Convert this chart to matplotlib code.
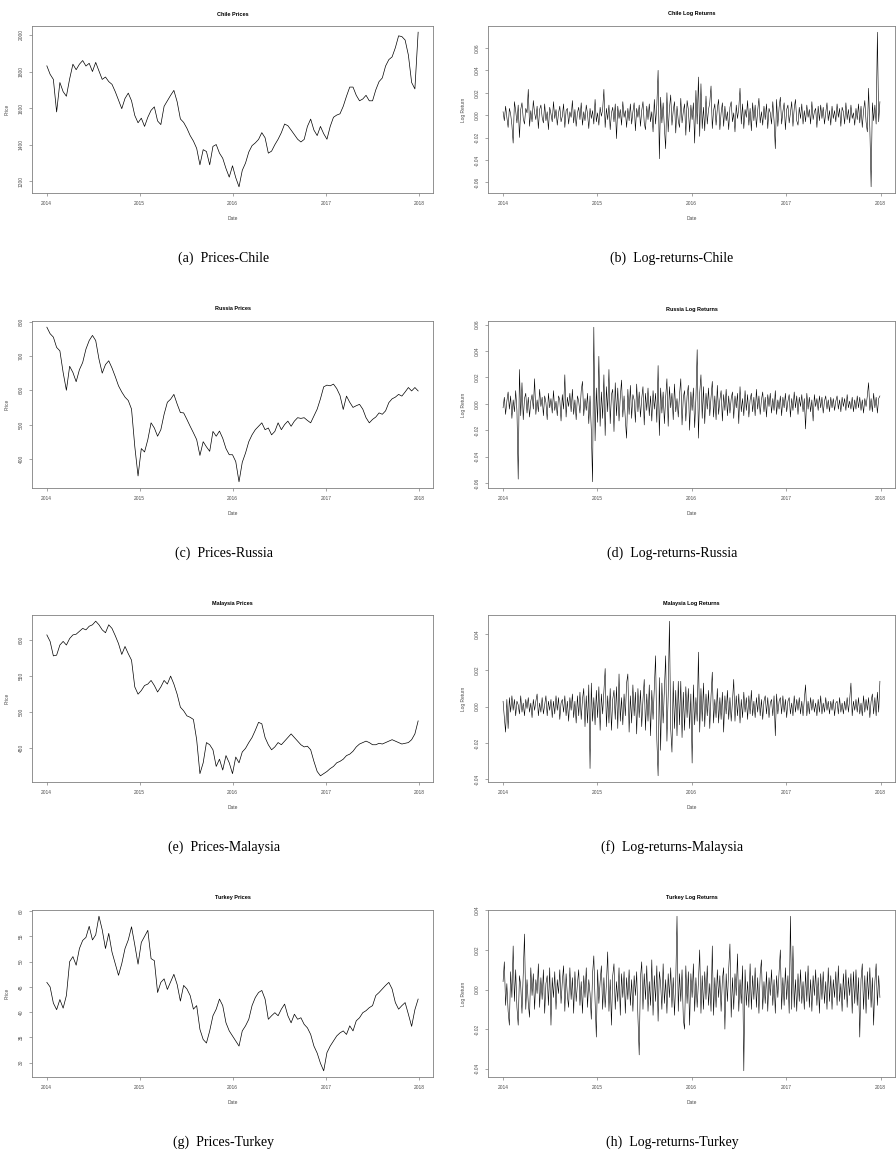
import numpy as np
import pandas as pd
import matplotlib
matplotlib.use('Agg')
import matplotlib.pyplot as plt
import matplotlib.dates as mdates
from matplotlib.ticker import FixedLocator, FormatStrFormatter

plt.rcParams['font.family'] = ['Liberation Sans', 'DejaVu Sans']

# ---- price series (roughly every 2 weeks, 2014-2017) ----
chile_price = [
    1831, 1785, 1757, 1579, 1740, 1690, 1665, 1760, 1840, 1810,
    1840, 1860, 1830, 1845, 1800, 1850, 1803, 1757, 1770, 1745,
    1730, 1690, 1644, 1597, 1653, 1682, 1640, 1560, 1520, 1545,
    1500, 1550, 1588, 1607, 1530, 1510, 1610, 1640, 1670, 1697,
    1635, 1541, 1522, 1490, 1450, 1420, 1380, 1290, 1373, 1363,
    1290, 1391, 1401, 1354, 1326, 1270, 1223, 1285, 1220, 1170,
    1260, 1300, 1360, 1395, 1410, 1429, 1466, 1438, 1354, 1365,
    1400, 1430, 1466, 1513, 1504, 1480, 1455, 1430, 1415, 1429,
    1500, 1540, 1480, 1450, 1500, 1460, 1430, 1500, 1550, 1562,
    1569, 1610, 1665, 1715, 1715, 1670, 1640, 1650, 1670, 1640,
    1640, 1700, 1745, 1765, 1830, 1865, 1880, 1930, 1995, 1991,
    1972, 1890, 1740, 1705, 2015]

russia_price = [
    784, 765, 755, 725, 715, 652, 600, 670, 652, 625,
    660, 681, 720, 745, 760, 745, 691, 650, 675, 686,
    665, 640, 613, 595, 580, 570, 545, 436, 350, 430,
    420, 456, 505, 490, 466, 485, 530, 565, 574, 588,
    560, 535, 534, 515, 495, 476, 456, 410, 450, 435,
    422, 480, 466, 481, 460, 430, 412, 412, 392, 333,
    390, 417, 450, 470, 485, 495, 505, 485, 490, 470,
    480, 505, 485, 500, 510, 495, 510, 520, 518, 520,
    512, 505, 525, 545, 575, 610, 615, 613, 618, 605,
    585, 544, 583, 565, 550, 555, 559, 545, 520, 505,
    515, 522, 534, 530, 540, 564, 575, 580, 588, 583,
    595, 608, 598, 608, 598]

malaysia_price = [
    607, 598, 578, 579, 593, 598, 593, 602, 607, 608,
    612, 616, 614, 619, 621, 626, 621, 614, 610, 621,
    616, 606, 595, 580, 591, 581, 572, 535, 525, 530,
    537, 539, 544, 537, 528, 535, 544, 539, 550, 539,
    525, 507, 502, 495, 493, 490, 462, 415, 430, 458,
    455, 448, 425, 435, 420, 440, 430, 415, 438, 430,
    445, 450, 458, 465, 475, 486, 484, 465, 455, 448,
    452, 458, 455, 460, 465, 470, 465, 460, 455, 452,
    453, 448, 432, 418, 412, 415, 418, 422, 425, 430,
    432, 435, 440, 442, 446, 452, 456, 458, 460, 458,
    455, 455, 457, 456, 458, 460, 462, 460, 458, 456,
    457, 458, 462, 470, 488]

turkey_price = [
    45.9, 45.0, 41.8, 40.5, 42.5, 40.8, 43.3, 50.0, 51.0, 49.3,
    52.6, 54.2, 54.8, 57.0, 54.3, 55.3, 59.0, 56.3, 52.6, 55.6,
    51.9, 49.6, 47.3, 49.6, 52.6, 54.3, 56.9, 53.3, 49.5, 53.8,
    55.0, 56.2, 50.6, 50.2, 43.9, 45.9, 46.6, 44.5, 46.0, 47.5,
    45.5, 42.2, 45.3, 44.6, 43.3, 40.6, 41.3, 36.6, 34.6, 33.9,
    36.3, 39.3, 40.6, 42.6, 41.3, 37.9, 36.3, 35.3, 34.3, 33.3,
    36.3, 37.3, 38.6, 41.3, 42.9, 43.9, 44.3, 42.6, 38.6, 39.3,
    39.9, 39.3, 40.6, 41.6, 39.3, 37.9, 39.6, 38.6, 38.9, 37.6,
    36.9, 35.6, 33.3, 31.9, 29.9, 28.4, 32.0, 33.3, 34.3, 35.3,
    35.9, 36.3, 35.6, 37.3, 36.3, 38.3, 38.9, 39.9, 40.3, 40.9,
    41.3, 43.3, 43.9, 44.6, 45.3, 45.9, 44.6, 41.9, 40.6, 41.3,
    41.9, 39.6, 37.2, 40.5, 42.6]

# ---- log returns in percent (~3 per fortnight) ----
chile_ret_pct = [
    0.3, -0.5, 0.8, -0.2, -1.1, 0.6, 0.1, -0.9, -2.5, 1.2, 0.4, -0.7, 0.9, -2.0, 0.5, 1.1, -0.3, -0.8, 0.6, 0.2,
    2.3, -1.0, 0.4, -0.6, 1.3, 0.2, -0.4, 0.8, -1.2, 0.5, 0.9, -0.2, -0.7, 1.0, -0.5, 0.3, -1.3, 0.7, 0.1, -0.6,
    1.2, -0.3, 0.5, -0.9, 0.2, 0.8, -0.6, -0.1, 1.0, -1.1, 0.4, 0.6, -0.8, 0.3, -0.2, 1.3, -0.7, 0.5, -1.0, 0.2,
    0.7, -0.4, 1.1, -0.9, 0.3, -0.5, 0.9, 0.1, -1.2, 0.6, -0.3, 0.4, -0.8, 1.4, -0.6, 0.2, -0.9, 0.7, -0.1, 0.5,
    2.3, -1.1, 0.6, -0.4, 0.9, -1.3, 0.2, 0.7, -0.6, 1.0, -2.1, 0.8, -0.3, 0.5, -0.9, 1.2, -0.2, 0.4, -1.1, 0.6,
    -0.5, 1.0, -0.8, 0.3, 1.1, -1.4, 0.6, -0.2, 0.9, -1.0, 0.4, 1.2, -0.7, -1.3, 0.8, -0.4, 1.0, -0.6, 0.3, -1.5,
    1.4, -0.8, 0.9, 4.0, -3.9, 1.6, -0.7, 1.1, -1.2, -3.0, 2.0, -1.5, 0.6, 1.8, -0.9, 0.4, 1.2, -1.6, 0.8, -0.5,
    -1.1, 1.5, -0.7, 0.3, 1.0, -1.8, 1.3, 0.5, -1.5, 0.9, -0.4, 1.1, -2.5, 2.2, -0.8, 3.4, -1.9, 2.8, -1.2, 0.7,
    -1.4, 1.7, -0.8, 0.5, 1.1, 2.6, -1.2, 0.4, 1.0, -0.9, 0.6, 1.4, -1.3, 0.2, 1.1, -1.0, 0.8, -0.5, 0.3, -1.3,
    0.7, 1.2, -0.6, 0.2, -1.5, 0.9, -0.3, 0.6, 2.4, -0.8, 1.0, -1.2, 0.5, -0.2, 1.3, -0.9, 0.6, -1.4, 1.1, -0.5,
    0.9, -1.1, 0.4, 1.5, -0.7, 0.3, -0.9, 0.8, -0.4, 1.0, -1.2, 0.6, 0.2, -0.8, 1.2, -0.5, -3.0, 1.4, -1.0, 0.7,
    1.6, -0.8, 0.3, 1.1, -1.3, 0.5, 0.9, -0.7, 0.2, 1.2, -1.0, 0.6, 1.4, -0.5, -0.9, 0.7, -0.3, 1.0, -0.8, 0.4,
    -0.6, 0.9, -0.2, 0.5, -0.8, 1.2, -0.4, 0.3, 0.6, -1.1, 0.8, -0.5, 0.9, -0.3, 0.7, -0.8, 0.2, 1.1, -0.5, 0.4,
    -0.9, 0.8, -0.3, 0.4, -0.6, 1.0, -0.2, 0.6, -1.0, 0.7, 0.3, -0.8, 1.1, -0.4, 0.5, -0.7, 0.9, -0.3, 0.2, -0.9,
    0.6, -0.4, 1.0, -0.7, 0.8, -1.1, 0.4, 1.3, -0.6, -1.5, 2.4, -1.2, -6.4, 1.1, -0.5, 0.9, -0.8, 7.4, -0.6, 1.2]

russia_ret_pct = [
    -0.3, 0.5, -0.8, 0.2, 0.9, -0.4, 0.6, -1.1, 0.3, -0.6, 1.0, -0.5, -5.7, 2.6, -0.9, 1.6, -1.2, 0.4, 0.8, -0.7,
    0.5, -1.0, 0.2, 0.7, -0.4, 1.9, -0.8, 0.3, -0.6, 1.1, -0.2, 0.5, -0.9, 0.6, 0.1, -1.2, 0.8, -0.3, 0.4, -0.7,
    1.0, -0.5, 0.2, -0.9, 0.6, 0.3, -1.3, 0.7, -0.4, 2.2, -1.0, 0.5, -0.2, 0.8, -0.6, 1.1, -0.8, 0.3, -1.2, 0.6,
    0.2, -0.7, 1.0, 1.7, -0.9, 0.4, -0.5, 0.8, -1.5, 0.6, -2.0, -5.9, 5.8, -2.8, 1.2, -1.4, 3.6, -1.7, 0.9, -1.1,
    2.2, -2.4, 1.3, -0.6, 2.6, -1.5, 0.7, 1.1, -2.1, 1.6, -0.9, 1.2, -1.3, 0.5, 1.8, -1.0, 0.6, -1.2, -2.6, 1.1,
    -0.8, 1.4, -1.1, 0.7, 0.3, -1.4, 1.5, -0.6, 0.9, -1.0, 0.4, 1.3, -1.6, 0.8, -0.5, 1.2, -0.9, 0.6, -1.3, 1.0,
    -0.4, 0.8, -1.4, 2.9, -2.4, 1.2, -0.7, 0.9, -1.5, 0.5, 1.9, -1.7, 1.3, -0.3, 0.8, -1.2, 1.5, -0.6, 0.4, -1.0,
    0.7, 1.9, -1.6, 0.5, 1.0, -1.3, 0.6, 1.4, -2.0, 0.9, -0.5, 1.2, -1.8, 0.4, 4.1, -2.6, 0.8, 2.2, -1.1, 1.3,
    -1.5, 0.8, -0.4, 1.2, -0.9, 0.5, 1.7, -1.0, 0.6, -1.2, 1.4, -0.8, 0.3, 1.0, -1.3, 0.7, -0.5, 1.1, -0.9, 0.6,
    -0.7, 0.4, 0.9, -1.1, 0.6, -0.3, 0.8, -1.5, 1.3, -0.6, 0.4, -0.9, 1.0, -0.5, 0.7, -1.0, 0.3, 0.8, -0.6, 0.5,
    -0.9, 1.1, -0.4, 0.6, -0.8, 0.3, 0.9, -0.6, 0.5, -1.0, 0.7, -0.2, 0.8, -0.7, 0.4, -0.5, 1.0, -0.8, 0.3, -0.4,
    0.6, -0.9, 0.5, -0.3, 0.8, -0.6, 0.2, 0.7, -1.0, 0.4, -0.5, 0.9, -0.3, 0.6, -0.8, 0.5, -0.2, 0.7, -0.6, 0.4,
    -1.9, 0.8, -0.4, 0.5, -0.6, 0.3, -1.3, 0.7, -0.2, 0.4, -0.5, 0.6, -0.3, 0.5, -0.7, 0.2, 0.6, -0.4, 0.3, -0.6,
    0.5, -0.3, 0.4, -0.5, 0.2, 0.6, -0.4, 0.3, -0.6, 0.5, -0.2, 0.4, -0.5, 0.7, -0.3, 0.2, -0.4, 0.5, -0.6, 0.3,
    -0.4, 0.6, -0.3, 0.5, -0.5, 0.3, -0.7, 0.4, -0.2, 0.6, 1.6, -0.5, 0.4, -0.6, 0.8, -0.3, 0.5, -0.7, 0.4, 0.6]

malaysia_ret_pct = [
    0.3, -0.6, -1.4, 0.4, -1.2, 0.5, -0.3, 0.6, -0.2, 0.4, -0.5, 0.3, 0.1, -0.4, 0.6, -0.3, 0.2, -0.5, 0.4, -0.1,
    0.5, -0.3, 0.2, -0.6, 0.4, -0.2, 0.3, 0.7, -0.5, 0.2, -0.3, 0.5, -0.4, 0.1, 0.6, -0.5, 0.3, -0.2, 0.4, -0.6,
    0.3, -0.4, 0.6, -0.2, 0.5, -0.7, 0.2, 0.4, -0.3, 0.6, -0.5, 0.3, -0.8, 0.5, -0.2, 0.7, -0.6, 0.3, -0.9, 0.6,
    -0.5, 0.8, -0.7, 0.4, 1.0, -1.1, 0.6, -0.9, 1.2, -3.4, 1.3, -0.8, 0.5, -1.0, 0.9, -0.6, 1.1, -1.3, 0.7, -0.4,
    0.8, 2.1, -1.1, 0.6, -0.9, 1.0, -1.3, 0.4, 0.9, -0.7, 1.1, -1.2, 1.8, -0.8, 0.5, -1.0, 0.7, -0.5, 1.3, 1.8,
    -1.4, 0.6, -0.9, 1.2, -0.5, 0.8, -1.5, 1.0, -0.6, 0.9, -1.1, 0.4, 1.5, -1.3, 0.7, -0.8, 1.2, -1.6, 0.9, -0.7,
    1.1, 2.8, -1.8, -3.8, 1.6, -2.4, 1.3, -0.9, 1.0, 2.8, -1.9, 0.6, 4.7, -1.2, -2.5, 1.4, -1.2, 0.9, -1.6, 1.4,
    -1.0, 1.4, -1.7, 0.8, -1.3, 1.1, -0.6, 1.0, -1.2, 0.7, -3.1, 1.2, -1.0, 0.5, -0.8, 3.0, -1.4, 1.0, -0.8, 1.3,
    -1.1, 0.7, -0.5, 0.9, -1.2, 0.6, 1.9, -0.9, 0.4, -0.6, 1.0, -0.9, 0.5, -0.7, 0.8, -1.4, 0.6, -0.4, 0.9, -0.7,
    0.5, -0.8, 0.3, 1.5, -0.8, 0.6, -0.5, 0.7, -0.9, 0.4, -0.6, 0.8, -0.3, 0.5, -0.7, 0.6, -0.4, 0.9, -0.5, 0.3,
    -0.6, 0.5, -0.3, 0.7, -0.5, 0.4, -0.7, 0.3, 0.6, -0.4, 0.5, -0.6, 0.2, 0.4, -0.5, 0.6, -1.6, 0.7, -0.4, 0.3,
    0.5, -0.4, 0.6, -0.3, 0.4, -0.6, 0.3, 0.5, -0.4, 0.2, -0.5, 0.6, -0.3, 0.4, -0.2, 0.5, -0.4, 0.3, -0.5, 0.4,
    1.2, -0.5, 0.3, -0.4, 0.5, -0.2, 0.4, -0.3, 0.2, -0.5, 0.4, -0.3, 0.6, -0.4, 0.2, -0.3, 0.5, -0.2, 0.3, -0.4,
    0.3, -0.2, 0.4, -0.5, 0.2, 0.3, -0.4, 0.5, -0.3, 0.2, -0.4, 0.3, -0.2, 0.5, -0.3, 0.4, 1.3, -0.5, 0.3, -0.2,
    0.4, -0.3, 0.5, -0.4, 0.2, -0.5, 0.6, -0.3, 0.4, -0.2, 0.5, -0.6, 0.3, 0.7, -0.4, 0.5, -0.5, 0.8, -0.3, 1.4]

turkey_ret_pct = [
    0.4, 1.4, -0.8, 0.3, -1.1, -1.8, 0.9, -0.4, 2.2, -0.6, 1.0, -0.9, -1.8, 0.7, 0.2, -1.2, 0.8, 2.8, -1.0, 0.5,
    -0.7, -1.4, 1.1, -0.3, 0.8, -1.0, 0.5, -0.2, 1.3, -0.9, 0.6, -0.5, 1.0, -1.2, 0.3, 0.7, -0.8, 1.1, -1.8, 0.6,
    -0.4, 0.9, -1.0, 0.5, -0.2, 1.0, -0.7, 0.4, 1.2, -1.1, 0.8, -0.3, -0.9, 1.1, -0.5, 0.6, -1.2, 0.9, -0.6, 0.3,
    1.0, -0.8, 0.4, -1.2, 0.7, -0.4, 1.1, -0.9, 0.5, -0.2, -1.5, 0.8, 1.7, -0.6, -2.4, 1.0, -0.7, 0.4, 1.2, -1.0,
    0.6, -0.9, 0.3, 1.9, -1.1, 0.5, -1.8, 0.7, 1.3, -1.0, 0.4, -0.6, 1.1, -1.3, 0.8, -0.4, 0.9, -1.2, 0.6, -0.5,
    1.0, -0.8, 0.5, -1.1, 0.7, -0.3, 0.9, -1.4, -3.3, 0.6, 1.4, -1.0, 0.8, -0.5, 1.2, -1.1, 0.4, -0.8, 1.5, -1.3,
    0.7, -0.6, 1.2, -1.6, 0.9, 0.3, -1.0, 1.3, -0.7, 0.5, -1.2, 0.8, -0.4, 1.1, -0.9, 0.6, -1.3, 0.4, 3.7, -1.1,
    0.8, -0.6, 1.0, -1.5, -2.0, 1.2, -0.7, 0.9, -1.8, 0.8, -0.4, 1.3, -1.1, 0.6, -0.9, 0.4, 2.0, -1.2, 0.7, -1.0,
    0.9, -0.5, 1.2, -0.8, 0.3, -1.1, 2.2, -1.3, 0.6, -0.9, 1.0, -0.4, 0.7, -1.1, 0.5, 1.1, -2.0, 0.8, -0.6, 1.0,
    2.3, -1.4, 0.6, -1.0, 0.8, -0.3, 1.8, -1.1, 0.5, -0.7, 1.2, -4.1, 1.0, -0.8, 0.4, -0.9, 1.3, -1.0, 0.7, -0.5,
    1.1, -0.9, 0.6, -1.2, 0.8, 1.5, -1.0, 0.4, -0.7, 0.9, -1.1, 0.6, -0.3, 1.0, -0.8, 0.5, -1.2, 0.7, -0.4, 0.9,
    2.0, -1.0, 0.6, -0.8, 1.1, -0.5, 0.7, -1.2, 3.7, -1.0, 2.2, -0.9, 0.5, -1.1, 0.8, -0.6, 1.0, -0.7, 0.4, -1.0,
    0.9, -0.6, 1.2, -0.9, 0.5, -1.1, 0.7, -0.3, 1.0, -0.8, 0.6, -1.2, 0.8, -0.5, 0.9, -0.7, 0.4, -1.0, 1.1, -0.6,
    0.7, -1.0, 0.5, -0.4, 0.9, -0.8, 1.2, -0.6, 0.3, -1.1, 0.8, -0.5, 1.0, -0.9, 0.6, -0.3, 0.8, -1.2, 0.9, -0.7,
    1.0, -0.8, 0.6, -2.4, 0.5, 1.3, -1.0, 0.7, -1.2, 0.9, -0.5, 1.1, -0.9, 0.6, -1.8, 0.4, 1.3, -0.8, 0.7, -0.4]

price_ticks = {
    'Chile': [1200, 1400, 1600, 1800, 2000],
    'Russia': [400, 500, 600, 700, 800],
    'Malaysia': [450, 500, 550, 600],
    'Turkey': [30, 35, 40, 45, 50, 55, 60],
}
ret_ticks = {
    'Chile': [-0.06, -0.04, -0.02, 0.0, 0.02, 0.04, 0.06],
    'Russia': [-0.06, -0.04, -0.02, 0.0, 0.02, 0.04, 0.06],
    'Malaysia': [-0.04, -0.02, 0.0, 0.02, 0.04],
    'Turkey': [-0.04, -0.02, 0.0, 0.02, 0.04],
}

countries = ['Chile', 'Russia', 'Malaysia', 'Turkey']
prices = [chile_price, russia_price, malaysia_price, turkey_price]
returns = [chile_ret_pct, russia_ret_pct, malaysia_ret_pct, turkey_ret_pct]
letters = ['a', 'b', 'c', 'd', 'e', 'f', 'g', 'h']

W, H = 896, 1152
fig = plt.figure(figsize=(W / 100, H / 100), dpi=100)

# panel boxes in pixels (top, bottom) for each row
row_px = [(26, 193), (321, 488), (615, 782), (910, 1077)]
col_px = [(32, 433), (488, 895)]


def px_axes(x0, x1, y0, y1):
    return fig.add_axes([x0 / W, 1 - y1 / H, (x1 - x0) / W, (y1 - y0) / H])


def r_panel(ax, values, title, ylabel, yticks, fmt, lw):
    dates = pd.date_range('2014-01-02', '2017-12-29', periods=len(values))
    ax.plot(dates, values, color='black', linewidth=lw)
    ax.margins(x=0.04, y=0.04)
    ax.yaxis.set_major_locator(FixedLocator(yticks))
    ax.yaxis.set_major_formatter(FormatStrFormatter(fmt))
    ax.xaxis.set_major_locator(mdates.YearLocator())
    ax.xaxis.set_major_formatter(mdates.DateFormatter('%Y'))
    ax.tick_params(length=2, width=0.5, color='0.5', labelsize=3.5,
                   labelcolor='0.3', pad=4)
    for lab in ax.get_yticklabels():
        lab.set_rotation(90)
        lab.set_va('center')
    for s in ax.spines.values():
        s.set_color('0.5')
        s.set_linewidth(0.6)
    ax.text(0.5, 1 + 12 / 167, title, transform=ax.transAxes, ha='center',
            va='center', fontsize=4, fontweight='bold')
    ax.set_xlabel('Date', fontsize=3.5, color='0.3')
    ax.xaxis.set_label_coords(0.5, -0.138)
    ax.set_ylabel(ylabel, fontsize=3.5, color='0.3')
    ax.yaxis.set_label_coords(-0.055, 0.5)


for i, name in enumerate(countries):
    y0, y1 = row_px[i]
    axp = px_axes(col_px[0][0], col_px[0][1], y0, y1)
    r_panel(axp, prices[i], name + ' Prices', 'Price', price_ticks[name], '%g', 0.5)
    axr = px_axes(col_px[1][0], col_px[1][1], y0, y1)
    r_panel(axr, np.array(returns[i]) / 100, name + ' Log Returns',
            'Log Return', ret_ticks[name], '%.2f', 0.4)

    cy = 1 - (y1 + 65) / H
    fig.text(224 / W, cy, '(%s)  Prices-%s' % (letters[2 * i], name),
             family='Liberation Serif', fontsize=10, ha='center', va='center')
    fig.text(672 / W, cy, '(%s)  Log-returns-%s' % (letters[2 * i + 1], name),
             family='Liberation Serif', fontsize=10, ha='center', va='center')

fig.savefig('out.png', dpi=100)
